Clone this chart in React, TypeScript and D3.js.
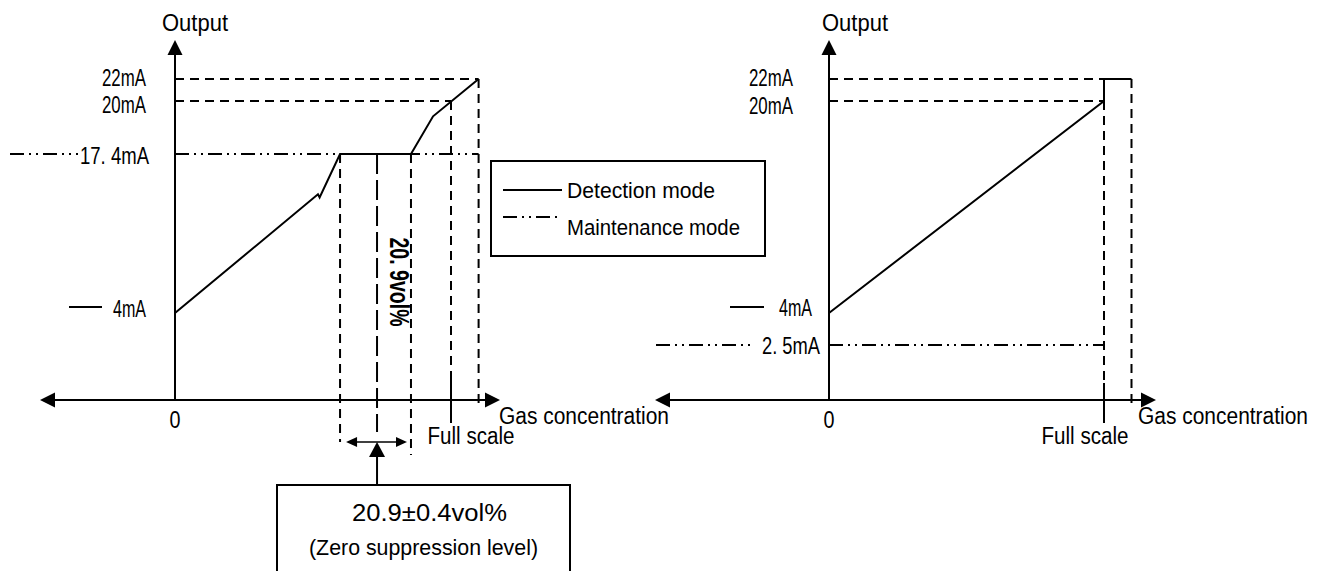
import { useRef, useEffect } from "react";
import * as d3 from "d3";

const W = 1324;
const H = 571;

// output breakpoints of the schematic y axis (mA)
const OUTPUT_LEVELS = [0, 2.5, 4, 17.4, 20, 22];

// detection mode curves: x in % of full scale, y in mA
const LEFT_FS = [0, 51.8, 52.4, 59.8, 85.5, 93.5, 110];
const LEFT_MA = [4, 14.0, 13.73, 17.4, 17.4, 19.25, 22];
const RIGHT_FS = [0, 100, 100, 110];
const RIGHT_MA = [4, 20, 22, 22];

// zero suppression band (% FS): low, centre (20.9 vol%), high
const ZS_BAND = [59.8, 73.2, 85.5];

const FULL_SCALE = 100;
const OVER_RANGE = 110;
const LEFT_MAINT_MA = 17.4;
const RIGHT_MAINT_MA = 2.5;

const LEFT_LABELS = ["22mA", "20mA", "17. 4mA", "4mA"];
const LEFT_LABEL_MA = [22, 20, 17.4, 4];
const RIGHT_LABELS = ["22mA", "20mA", "4mA", "2. 5mA"];
const RIGHT_LABEL_MA = [22, 20, 4, 2.5];

const LEGEND = ["Detection mode", "Maintenance mode"];
const ZS_TEXT = ["20.9±0.4vol%", "(Zero suppression level)"];
const O2_TEXT = "20. 9vol%";
const Y_TITLE = "Output";
const X_TITLE = "Gas concentration";
const FS_TEXT = "Full scale";

const FONT = "'Liberation Sans', Arial, sans-serif";
const DASH = "9,6";
const LONG_DASH = "20,6";
const DASH_DOT_DOT = "14,5,2,5,2,5";

// half-width glyph metrics of the original (MS Gothic-like) labels
const monoWidth = (s) =>
  [...s].reduce((w, ch) => w + (ch === "." || ch === " " ? 7 : 11), 0);

export default function App() {
  const svgRef = useRef(null);

  useEffect(() => {
    const svg = d3.select(svgRef.current);
    svg.selectAll("*").remove();

    const y = d3
      .scaleLinear()
      .domain(OUTPUT_LEVELS)
      .range([400, 345, 313, 154, 101, 79]);
    const axisY = y(0);

    const line = (g, x1, y1, x2, y2, dash = null, w = 2) =>
      g
        .append("line")
        .attr("x1", x1)
        .attr("y1", y1)
        .attr("x2", x2)
        .attr("y2", y2)
        .attr("stroke", "#000")
        .attr("stroke-width", w)
        .attr("stroke-dasharray", dash);

    // triangle head; dir = [dx, dy] unit pointing direction
    const head = (g, tx, ty, dir, len, half) => {
      const [dx, dy] = dir;
      const bx = tx - dx * len;
      const by = ty - dy * len;
      const p = d3.path();
      p.moveTo(tx, ty);
      p.lineTo(bx - dy * half, by + dx * half);
      p.lineTo(bx + dy * half, by - dx * half);
      p.closePath();
      g.append("path").attr("d", p.toString()).attr("fill", "#000");
    };

    const text = (g, x, yy, s, opts = {}) => {
      const t = g
        .append("text")
        .attr("x", x)
        .attr("y", yy)
        .attr("font-family", FONT)
        .attr("font-size", opts.size || 24)
        .attr("font-weight", opts.weight || 400)
        .attr("text-anchor", opts.anchor || "start")
        .attr("dominant-baseline", opts.baseline || "central")
        .attr("fill", "#000")
        .text(s);
      if (opts.length) {
        t.attr("textLength", opts.length).attr("lengthAdjust", "spacingAndGlyphs");
      }
      if (opts.transform) t.attr("transform", opts.transform);
      return t;
    };

    const curve = d3
      .line()
      .x((d) => d[0])
      .y((d) => d[1]);

    const panels = [
      {
        x: d3.scaleLinear().domain([0, FULL_SCALE]).range([175, 451]),
        axisL: 40,
        axisR: 500,
        titleX: 162,
        gasX: 499,
        fsTextX: 471,
        fs: LEFT_FS,
        ma: LEFT_MA,
        labels: LEFT_LABELS,
        labelMA: LEFT_LABEL_MA,
        labelEnd: [146, 146, 149, 146],
        labelDy: [-2, 3, 1, -5],
        maintMA: LEFT_MAINT_MA,
        maintEnd: OVER_RANGE,
        maintMark: [10, 78],
        detMark: [69, 102],
        fsDashEnd: 378,
      },
      {
        x: d3.scaleLinear().domain([0, FULL_SCALE]).range([829, 1104]),
        axisL: 655,
        axisR: 1156,
        titleX: 822,
        gasX: 1138,
        fsTextX: 1085,
        fs: RIGHT_FS,
        ma: RIGHT_MA,
        labels: RIGHT_LABELS,
        labelMA: RIGHT_LABEL_MA,
        labelEnd: [793, 793, 812, 820],
        labelDy: [-2, 4, -6, 0],
        maintMA: RIGHT_MAINT_MA,
        maintEnd: FULL_SCALE,
        maintMark: [656, 755],
        detMark: [730, 764],
        fsDashEnd: 383,
      },
    ];

    panels.forEach((p) => {
      const g = svg.append("g");
      const x0 = p.x(0);
      const xFs = p.x(FULL_SCALE);
      const xOr = p.x(OVER_RANGE);

      // --- guide lines ---
      line(g, x0, y(22), p.maintEnd === OVER_RANGE ? xOr : xFs, y(22), DASH);
      line(g, x0, y(20), xFs, y(20), DASH);
      line(g, xOr, y(22), xOr, axisY + 8, DASH);
      line(g, xFs, y(20), xFs, p.fsDashEnd, DASH);
      line(g, xFs, p.fsDashEnd, xFs, 423);

      // maintenance mode level
      line(g, x0, y(p.maintMA), p.x(p.maintEnd), y(p.maintMA), DASH_DOT_DOT);

      // --- axes ---
      line(g, x0, axisY, x0, 52);
      head(g, x0, 40, [0, -1], 15, 7.5);
      line(g, p.axisL + 10, axisY, p.axisR - 10, axisY);
      head(g, p.axisL, axisY, [-1, 0], 15, 7.5);
      head(g, p.axisR, axisY, [1, 0], 15, 7.5);

      // --- detection curve ---
      g.append("path")
        .attr("d", curve(p.fs.map((f, i) => [p.x(f), y(p.ma[i])])))
        .attr("fill", "none")
        .attr("stroke", "#000")
        .attr("stroke-width", 2)
        .attr("stroke-linejoin", "miter");

      // --- labels ---
      text(g, p.titleX, 31, Y_TITLE, { baseline: "alphabetic", length: monoWidth(Y_TITLE) });
      text(g, x0, 419, "0", { anchor: "middle", length: 11 });
      p.labels.forEach((s, i) => {
        text(g, p.labelEnd[i], y(p.labelMA[i]) + p.labelDy[i], s, {
          anchor: "end",
          length: monoWidth(s),
        });
      });
      line(g, p.maintMark[0], y(p.maintMA), p.maintMark[1], y(p.maintMA), DASH_DOT_DOT);
      line(g, p.detMark[0], y(4) - 6, p.detMark[1], y(4) - 6);

      text(g, p.gasX, 416, X_TITLE, { size: 23, length: 170 });
      text(g, p.fsTextX, 436, FS_TEXT, { size: 23, anchor: "middle", length: 87 });
    });

    // --- zero suppression band (left panel) ---
    const L = panels[0];
    const g = svg.append("g");
    const [zl, zc, zh] = ZS_BAND.map((v) => L.x(v));
    const y174 = y(LEFT_MAINT_MA);
    line(g, zl, y174, zl, 442, DASH);
    line(g, zh, y174, zh, 455, DASH);
    line(g, zc, y174, zc, 432, LONG_DASH);

    text(g, 0, 0, O2_TEXT, {
      size: 27,
      weight: 700,
      anchor: "middle",
      length: 89,
      transform: `translate(${zc + 22},282) rotate(90)`,
    });

    // band width arrow
    line(g, zl + 8, 442, zh - 8, 442, null, 1.5);
    head(g, zl + 6, 442, [-1, 0], 11, 5);
    head(g, zh - 4, 442, [1, 0], 11, 5);

    // pointer to the box
    head(g, zc, 442, [0, -1], 15, 8);
    line(g, zc, 455, zc, 485);

    g.append("rect")
      .attr("x", 277)
      .attr("y", 485)
      .attr("width", 293)
      .attr("height", 110)
      .attr("fill", "none")
      .attr("stroke", "#000")
      .attr("stroke-width", 2);
    text(g, 429.5, 513, ZS_TEXT[0], { size: 23, anchor: "middle", length: 155 });
    text(g, 423.5, 547, ZS_TEXT[1], { size: 22, anchor: "middle", length: 229 });

    // --- legend ---
    const lg = svg.append("g");
    lg.append("rect")
      .attr("x", 491)
      .attr("y", 161)
      .attr("width", 274)
      .attr("height", 95)
      .attr("fill", "#fff")
      .attr("stroke", "#000")
      .attr("stroke-width", 2);
    line(lg, 503, 190, 562, 190);
    line(lg, 503, 217, 557, 217, DASH_DOT_DOT);
    text(lg, 567, 198, LEGEND[0], { size: 22, baseline: "alphabetic", length: 148 });
    text(lg, 567, 235, LEGEND[1], { size: 22, baseline: "alphabetic", length: 173 });
  }, []);

  return (
    <svg
      ref={svgRef}
      width={W}
      height={H}
      style={{ position: "absolute", left: 0, top: 0, background: "#fff" }}
    />
  );
}
